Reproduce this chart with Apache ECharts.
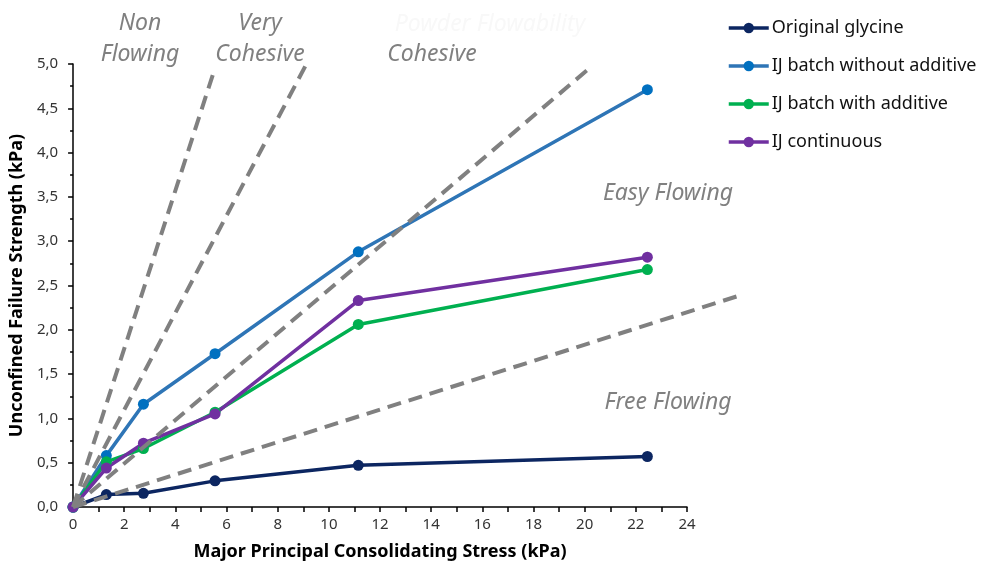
<!DOCTYPE html>
<html>
<head>
<meta charset="utf-8">
<script src="https://cdn.jsdelivr.net/npm/echarts@6/dist/echarts.min.js"></script>
<style>
  html, body { margin: 0; padding: 0; background: #fff; }
  #chart { width: 993px; height: 569px; }
</style>
</head>
<body>
<div id="chart"></div>
<script>
// Major principal consolidating stress (kPa) at each shear test
const stress = [0, 1.3, 2.75, 5.55, 11.15, 22.45];

// Unconfined failure strength (kPa) for each material
const originalGlycine = [0, 0.14, 0.155, 0.295, 0.47, 0.57];
const batchWithoutAdditive = [0, 0.58, 1.16, 1.73, 2.88, 4.71];
const batchWithAdditive = [0, 0.51, 0.66, 1.07, 2.06, 2.68];
const continuousIJ = [0, 0.44, 0.72, 1.05, 2.33, 2.82];

const seriesNames = ['Original glycine', 'IJ batch without additive', 'IJ batch with additive', 'IJ continuous'];

// Flow-function boundaries (ffc regions), each drawn from the origin to its end point [stress, strength]
const boundaryEnds = [[5.52, 4.93], [9.16, 5.02], [20.3, 4.98], [26.2, 2.40]];

// Region labels
const regionLabels = ['Non\nFlowing', 'Very\nCohesive', 'Cohesive', 'Easy Flowing', 'Free Flowing'];
const overTitle = 'Powder Flowability';

const yTickFmt = v => v.toFixed(1).replace('.', ',');

const pairs = ys => stress.map((x, i) => [x, ys[i]]);

const dataSeries = [
  { name: seriesNames[0], ys: originalGlycine, line: '#0c2661', mark: '#0c2661' },
  { name: seriesNames[1], ys: batchWithoutAdditive, line: '#2e75b6', mark: '#0070c0' },
  { name: seriesNames[2], ys: batchWithAdditive, line: '#00b050', mark: '#00b050' },
  { name: seriesNames[3], ys: continuousIJ, line: '#7030a0', mark: '#7030a0' }
].map(s => ({
  name: s.name,
  type: 'line',
  data: pairs(s.ys),
  symbol: 'circle',
  symbolSize: 11,
  lineStyle: { color: s.line, width: 3.5 },
  itemStyle: { color: s.mark },
  z: 3,
  animation: false
}));

// Boundaries are drawn as custom polylines so they may run past the axis range
const boundarySeries = {
  name: 'ffc boundaries',
  type: 'custom',
  data: boundaryEnds.map(e => [e[0], e[1]]),
  clip: false,
  silent: true,
  z: 4,
  animation: false,
  renderItem: (params, api) => {
    const p0 = api.coord([0, 0]);
    const p1 = api.coord([api.value(0), api.value(1)]);
    return {
      type: 'polyline',
      shape: { points: [p0, p1] },
      style: { stroke: '#808080', lineWidth: 4, lineDash: [14, 8], fill: null }
    };
  }
};

const regionFont = { fontFamily: 'Noto Sans', fontStyle: 'italic', fontSize: 23, fill: '#808080', textAlign: 'center', lineHeight: 31 };

const chart = echarts.init(document.getElementById('chart'), null, { renderer: 'canvas' });
chart.setOption({
  backgroundColor: '#ffffff',
  animation: false,
  textStyle: { fontFamily: 'Noto Sans' },
  grid: { left: 73, right: 306, top: 64, bottom: 62, containLabel: false },
  legend: {
    data: seriesNames,
    orient: 'vertical',
    left: 722,
    top: 14,
    itemWidth: 40,
    itemHeight: 13,
    itemGap: 20,
    lineStyle: { width: 3.5 },
    textStyle: { fontSize: 18, color: '#111', fontFamily: 'Noto Sans', padding: [0, 0, 0, -2] }
  },
  xAxis: {
    type: 'value',
    min: 0,
    max: 24,
    interval: 2,
    name: 'Major Principal Consolidating Stress (kPa)',
    nameLocation: 'middle',
    nameGap: 36,
    nameTextStyle: { fontSize: 18, fontWeight: 'bold', color: '#000' },
    axisLine: { show: true, onZero: false, lineStyle: { color: '#000', width: 1.5 } },
    axisTick: { show: true, inside: false, length: 5, lineStyle: { color: '#000', width: 1.5 } },
    minorTick: { show: true, splitNumber: 2, length: 5, lineStyle: { color: '#000', width: 1.5 } },
    axisLabel: { fontSize: 15, color: '#333', margin: 10 },
    splitLine: { show: false }
  },
  yAxis: {
    type: 'value',
    min: 0,
    max: 5,
    interval: 0.5,
    name: 'Unconfined Failure Strength (kPa)',
    nameLocation: 'middle',
    nameGap: 46,
    nameTextStyle: { fontSize: 18, fontWeight: 'bold', color: '#000' },
    axisLine: { show: true, onZero: false, lineStyle: { color: '#000', width: 1.5 } },
    axisTick: { show: true, inside: false, length: 5, lineStyle: { color: '#000', width: 1.5 } },
    minorTick: { show: true, splitNumber: 2, length: 3, lineStyle: { color: '#000', width: 1.5 } },
    axisLabel: { fontSize: 15, color: '#333', margin: 15, formatter: yTickFmt },
    splitLine: { show: false }
  },
  graphic: [
    { type: 'text', style: Object.assign({}, regionFont, { text: overTitle, fill: '#f8f8f8', x: 490, y: 9 }) },
    { type: 'text', style: Object.assign({}, regionFont, { text: regionLabels[0], x: 140, y: 8 }) },
    { type: 'text', style: Object.assign({}, regionFont, { text: regionLabels[1], x: 260, y: 8 }) },
    { type: 'text', style: Object.assign({}, regionFont, { text: regionLabels[2], x: 432, y: 39 }) },
    { type: 'text', style: Object.assign({}, regionFont, { text: regionLabels[3], x: 668, y: 178 }) },
    { type: 'text', style: Object.assign({}, regionFont, { text: regionLabels[4], x: 668, y: 387 }) }
  ],
  series: dataSeries.concat([boundarySeries])
});
</script>
</body>
</html>
